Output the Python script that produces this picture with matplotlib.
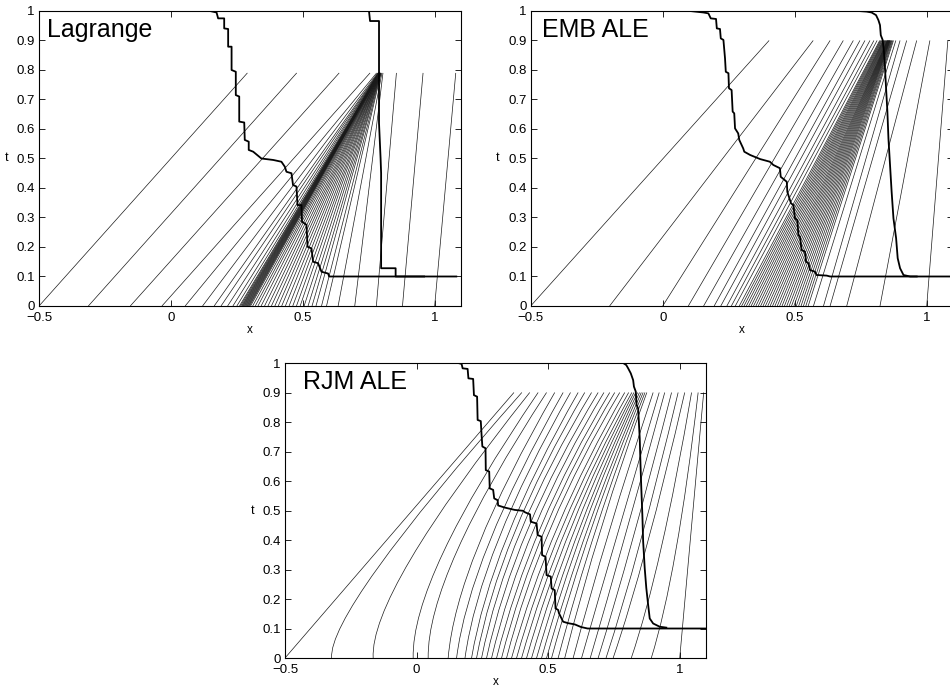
import matplotlib
matplotlib.use('Agg')
import matplotlib.pyplot as plt
from matplotlib.path import Path
from matplotlib.patches import PathPatch

plt.rcParams['font.family'] = ['Liberation Sans', 'DejaVu Sans']

# ---------------- shared axis data ----------------
x_ticks = [-0.5, 0, 0.5, 1]
x_ticklabels = ['\u22120.5', '0', '0.5', '1']
t_ticks = [0, 0.1, 0.2, 0.3, 0.4, 0.5, 0.6, 0.7, 0.8, 0.9, 1]
t_ticklabels = ['0', '0.1', '0.2', '0.3', '0.4', '0.5', '0.6', '0.7', '0.8', '0.9', '1']
titles = ['Lagrange', 'EMB ALE', 'RJM ALE']

# ---------------- Lagrange ----------------
lag_t_end = 0.79
lag_x0 = [-0.5, -0.313, -0.154, -0.034, 0.054, 0.12, 0.164, 0.19, 0.215, 0.235,
          0.25, 0.26, 0.264, 0.268, 0.271, 0.274, 0.277, 0.28, 0.283, 0.286,
          0.289, 0.292, 0.295, 0.298, 0.302,
          0.31, 0.32, 0.33, 0.342, 0.355, 0.368, 0.381, 0.394, 0.407, 0.42,
          0.434, 0.448, 0.462, 0.476, 0.49, 0.505, 0.52, 0.535, 0.55, 0.571,
          0.59, 0.634, 0.697, 0.779, 0.878, 1.0]
lag_x1 = [0.29, 0.477, 0.638, 0.755, 0.78, 0.784, 0.786, 0.787, 0.788, 0.788,
          0.789, 0.789, 0.789, 0.789, 0.79, 0.79, 0.79, 0.79, 0.79, 0.79,
          0.79, 0.79, 0.79, 0.79, 0.79,
          0.79, 0.79, 0.79, 0.79, 0.79, 0.791, 0.791, 0.791, 0.791, 0.792,
          0.792, 0.792, 0.793, 0.793, 0.793, 0.794, 0.794, 0.795, 0.795, 0.796,
          0.797, 0.80, 0.804, 0.855, 0.956, 1.08]
lag_p1_x = [0.10, 0.148, 0.173, 0.179, 0.202, 0.202, 0.217, 0.217, 0.230, 0.230,
            0.246, 0.246, 0.259, 0.259, 0.278, 0.28, 0.295, 0.295, 0.312, 0.343,
            0.388, 0.419, 0.432, 0.438, 0.457, 0.463, 0.476, 0.48, 0.495, 0.497,
            0.514, 0.518, 0.533, 0.539, 0.558, 0.571, 0.596, 0.60, 0.96]
lag_p1_t = [1.0, 1.0, 0.995, 0.975, 0.975, 0.941, 0.939, 0.879, 0.879, 0.80,
            0.794, 0.715, 0.71, 0.625, 0.622, 0.563, 0.557, 0.529, 0.523, 0.50,
            0.495, 0.489, 0.472, 0.455, 0.45, 0.41, 0.405, 0.342, 0.342, 0.286,
            0.275, 0.201, 0.195, 0.150, 0.145, 0.116, 0.11, 0.10, 0.10]
lag_p2_x = [0.72, 0.751, 0.755, 0.789, 0.789, 0.795, 0.797, 0.797, 0.852, 0.852, 1.082]
lag_p2_t = [1.0, 1.0, 0.966, 0.966, 0.62, 0.50, 0.45, 0.128, 0.128, 0.10, 0.10]

# ---------------- EMB ALE ----------------
emb_t_end = 0.9
emb_x0 = [-0.5, -0.201, 0.0, 0.097, 0.155, 0.195, 0.22, 0.243, 0.26, 0.275,
          0.29, 0.299, 0.308, 0.317, 0.326, 0.335, 0.344, 0.353, 0.362, 0.371,
          0.38, 0.389, 0.398, 0.407, 0.416, 0.425, 0.434, 0.443, 0.452, 0.461,
          0.47, 0.479, 0.488, 0.497, 0.506, 0.515, 0.524, 0.533, 0.542, 0.551,
          0.571, 0.609, 0.634, 0.697, 0.823, 1.0]
emb_x1 = [0.403, 0.57, 0.634, 0.684, 0.722, 0.747, 0.766, 0.785, 0.80, 0.812,
          0.822, 0.825, 0.828, 0.831, 0.834, 0.836, 0.838, 0.84, 0.842, 0.844,
          0.846, 0.848, 0.85, 0.851, 0.852, 0.853, 0.854, 0.855, 0.856, 0.857,
          0.858, 0.859, 0.86, 0.861, 0.862, 0.864, 0.866, 0.868, 0.871, 0.874,
          0.883, 0.899, 0.924, 0.962, 1.012, 1.08]
emb_p1_x = [0.05, 0.103, 0.154, 0.173, 0.182, 0.202, 0.205, 0.217, 0.220, 0.230,
            0.236, 0.239, 0.249, 0.251, 0.261, 0.265, 0.271, 0.274, 0.286, 0.290,
            0.305, 0.309, 0.331, 0.369, 0.406, 0.419, 0.444, 0.447, 0.470, 0.472,
            0.486, 0.495, 0.501, 0.510, 0.514, 0.520, 0.526, 0.539, 0.543, 0.552,
            0.558, 0.577, 0.583, 0.621, 0.634, 1.1]
emb_p1_t = [1.0, 1.0, 0.995, 0.992, 0.975, 0.973, 0.941, 0.939, 0.907, 0.902,
            0.840, 0.794, 0.789, 0.738, 0.732, 0.659, 0.653, 0.602, 0.585, 0.563,
            0.534, 0.523, 0.512, 0.498, 0.489, 0.478, 0.467, 0.438, 0.421, 0.387,
            0.348, 0.342, 0.297, 0.291, 0.240, 0.235, 0.190, 0.184, 0.150, 0.145,
            0.122, 0.116, 0.105, 0.103, 0.10, 0.10]
emb_p2_x = [0.74, 0.772, 0.791, 0.808, 0.817, 0.823, 0.826, 0.833, 0.838, 0.842,
            0.846, 0.851, 0.855, 0.861, 0.867, 0.874, 0.884, 0.890, 0.899, 0.912,
            0.937, 0.962]
emb_p2_t = [1.0, 0.998, 0.995, 0.986, 0.969, 0.952, 0.918, 0.902, 0.862, 0.806,
            0.738, 0.659, 0.568, 0.478, 0.388, 0.297, 0.230, 0.162, 0.128, 0.105,
            0.10, 0.10]

# ---------------- RJM ALE ----------------
rjm_t_end = 0.9
rjm_x0 = [-0.5, -0.323, -0.165, -0.013, 0.044, 0.12, 0.152, 0.184, 0.209, 0.228,
          0.247, 0.266, 0.285, 0.304, 0.323, 0.342, 0.361, 0.38, 0.399, 0.418,
          0.437, 0.456, 0.475, 0.494, 0.513, 0.538, 0.563, 0.595, 0.627, 0.66,
          0.69, 0.72, 0.747, 0.816, 0.892, 1.0]
rjm_x1 = [0.37, 0.40, 0.43, 0.462, 0.494, 0.525, 0.557, 0.585, 0.614, 0.639,
          0.665, 0.69, 0.712, 0.734, 0.753, 0.772, 0.791, 0.806, 0.818, 0.826,
          0.833, 0.84, 0.847, 0.854, 0.861, 0.868, 0.875, 0.899, 0.922, 0.943,
          0.969, 0.994, 1.019, 1.045, 1.07, 1.091]
rjm_cx = [-0.065, -0.335, -0.178, -0.02, 0.04, 0.15, 0.20, 0.24, 0.28, 0.31,
          0.34, 0.37, 0.40, 0.43, 0.45, 0.47, 0.50, 0.52, 0.54, 0.56,
          0.58, 0.60, 0.615, 0.635, 0.65, 0.67, 0.69, 0.72, 0.755, 0.785,
          0.815, 0.845, 0.87, 0.93, 0.99, 1.045]
rjm_ct = [0.45, 0.16, 0.22, 0.27, 0.28, 0.32, 0.34, 0.36, 0.38, 0.40,
          0.42, 0.43, 0.44, 0.45, 0.45, 0.45, 0.45, 0.45, 0.45, 0.45,
          0.45, 0.45, 0.45, 0.45, 0.45, 0.45, 0.45, 0.42, 0.40, 0.38,
          0.36, 0.34, 0.32, 0.30, 0.28, 0.45]
rjm_p1_x = [0.06, 0.108, 0.158, 0.171, 0.175, 0.194, 0.197, 0.215, 0.218, 0.230,
            0.232, 0.244, 0.247, 0.250, 0.262, 0.263, 0.276, 0.278, 0.291, 0.295,
            0.308, 0.310, 0.335, 0.373, 0.405, 0.412, 0.431, 0.434, 0.456, 0.460,
            0.475, 0.477, 0.490, 0.494, 0.510, 0.513, 0.525, 0.528, 0.538, 0.541,
            0.557, 0.576, 0.601, 0.625, 0.65, 1.1]
rjm_p1_t = [1.0, 1.0, 1.0, 0.997, 0.982, 0.980, 0.948, 0.946, 0.891, 0.886,
            0.807, 0.803, 0.756, 0.717, 0.711, 0.637, 0.632, 0.575, 0.570, 0.541,
            0.535, 0.517, 0.510, 0.502, 0.499, 0.494, 0.487, 0.462, 0.456, 0.417,
            0.411, 0.349, 0.343, 0.281, 0.276, 0.236, 0.230, 0.168, 0.163, 0.152,
            0.123, 0.118, 0.114, 0.105, 0.10, 0.10]
rjm_p2_x = [0.72, 0.760, 0.785, 0.797, 0.804, 0.814, 0.823, 0.826, 0.833, 0.836,
            0.842, 0.848, 0.851, 0.854, 0.858, 0.861, 0.867, 0.873, 0.880, 0.886,
            0.899, 0.924, 0.949]
rjm_p2_t = [1.0, 1.0, 1.0, 0.993, 0.982, 0.965, 0.942, 0.920, 0.903, 0.858,
            0.846, 0.745, 0.654, 0.575, 0.485, 0.395, 0.304, 0.237, 0.180, 0.134,
            0.117, 0.106, 0.103]

# ---------------- figure ----------------
fig = plt.figure(figsize=(9.5, 6.87), dpi=100)
fig.patch.set_facecolor('white')

ax_lag = fig.add_axes([0.0411, 0.5546, 0.4442, 0.4294])
ax_emb = fig.add_axes([0.5586, 0.5546, 0.4447, 0.4294])
ax_rjm = fig.add_axes([0.3000, 0.0422, 0.4432, 0.4294])

TRAJ = dict(color='#1a1a1a', lw=0.5, solid_capstyle='butt')
PROF = dict(color='black', lw=1.3, zorder=5)


def style(ax, title, tx):
    ax.set_xlim(-0.5, 1.1)
    ax.set_ylim(0, 1)
    ax.set_xticks(x_ticks)
    ax.set_xticklabels(x_ticklabels)
    ax.set_yticks(t_ticks)
    ax.set_yticklabels(t_ticklabels)
    ax.tick_params(direction='in', top=True, right=True, length=4, width=0.6,
                   labelsize=9.5)
    ax.tick_params(axis='x', pad=4.5)
    ax.tick_params(axis='y', pad=3)
    for s in ax.spines.values():
        s.set_linewidth(0.8)
        s.set_zorder(6)
    ax.set_xlabel('x', fontsize=8.5, labelpad=0)
    ax.set_ylabel('t', fontsize=9, rotation=0, labelpad=6, va='center', ha='right')
    ax.text(tx, 0.975, title, transform=ax.transAxes, fontsize=18,
            ha='left', va='top', zorder=7)


# Lagrange trajectories
for x0, x1 in zip(lag_x0, lag_x1):
    ax_lag.plot([x0, x1], [0, lag_t_end], **TRAJ)
ax_lag.plot(lag_p1_x, lag_p1_t, **PROF)
ax_lag.plot(lag_p2_x, lag_p2_t, **PROF)
style(ax_lag, titles[0], 0.02)

# EMB ALE trajectories
for x0, x1 in zip(emb_x0, emb_x1):
    ax_emb.plot([x0, x1], [0, emb_t_end], **TRAJ)
ax_emb.plot(emb_p1_x, emb_p1_t, **PROF)
ax_emb.plot(emb_p2_x, emb_p2_t, **PROF)
style(ax_emb, titles[1], 0.026)

# RJM ALE trajectories (quadratic curves)
for x0, cx, ct, x1 in zip(rjm_x0, rjm_cx, rjm_ct, rjm_x1):
    path = Path([(x0, 0), (cx, ct), (x1, rjm_t_end)],
                [Path.MOVETO, Path.CURVE3, Path.CURVE3])
    ax_rjm.add_patch(PathPatch(path, facecolor='none', edgecolor='#1a1a1a', lw=0.5))
ax_rjm.plot(rjm_p1_x, rjm_p1_t, **PROF)
ax_rjm.plot(rjm_p2_x, rjm_p2_t, **PROF)
style(ax_rjm, titles[2], 0.043)

fig.savefig('out.png', dpi=100, facecolor='white')
